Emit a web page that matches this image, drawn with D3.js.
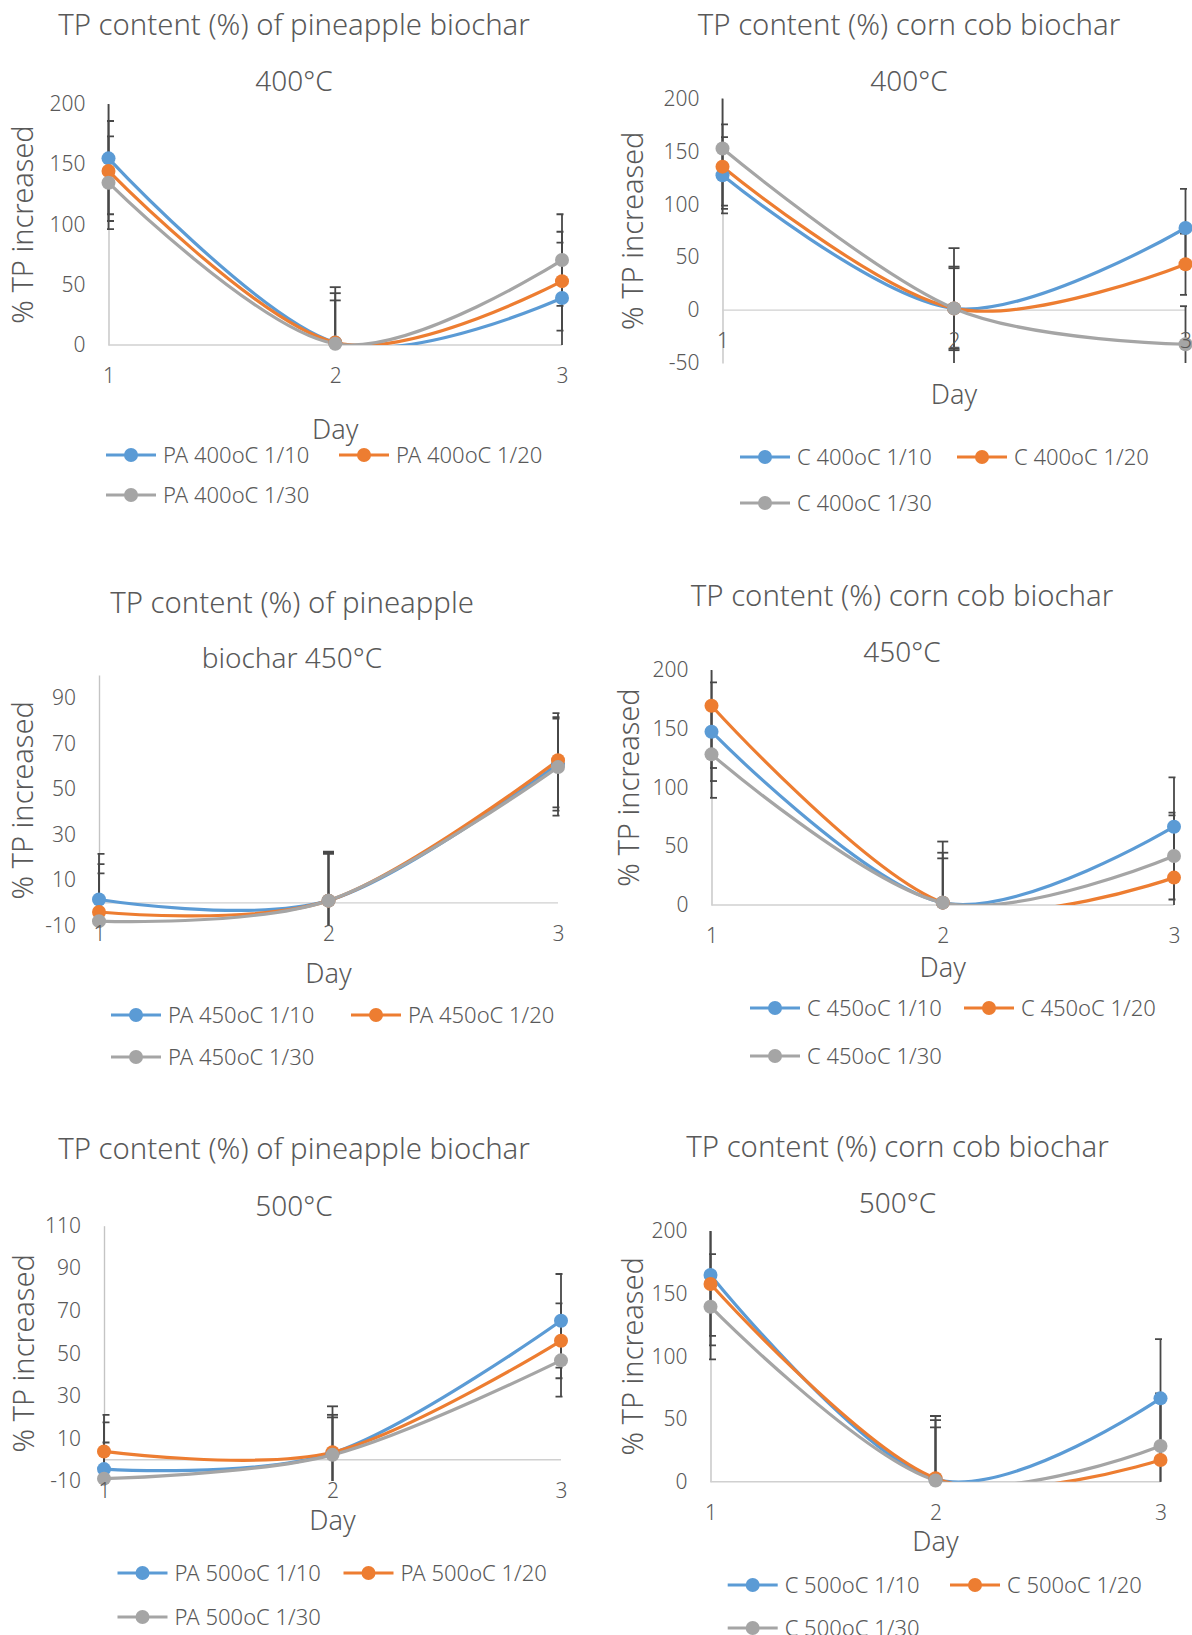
<!DOCTYPE html>
<html>
<head>
<meta charset="utf-8">
<script src="https://cdn.jsdelivr.net/npm/d3@7"></script>
<style>
  body { margin: 0; background: #fff; }
  text { font-family: "Noto Sans", "Open Sans", sans-serif; font-weight: 300; fill: #595959; }
</style>
</head>
<body>
<div id="chart"></div>
<script>
// Data: % TP increased per day, rows = ratio 1/10, 1/20, 1/30
const days = [1, 2, 3];
const ratios = ["1/10", "1/20", "1/30"];
const seriesColors = ["#5B9BD5", "#ED7D31", "#A5A5A5"];

const pa400 = [[154.9, 2, 39], [144.4, 2, 53], [134.7, 1, 70.5]];
const pa400Err = [[46.4, 46, 46], [41.5, 41, 41], [38.5, 36, 38]];

const c400 = [[127.4, 1.6, 77.6], [135.6, 1.6, 43.4], [152.7, 1.6, -32.3]];
const c400Err = [[36, 38, 37], [40, 39.5, 29], [54, 57, 36]];

const pa450 = [[1.5, 1, 61], [-4, 1, 62.6], [-8, 1, 59.6]];
const pa450Err = [[20, 21.5, 20.5], [21, 21, 20.7], [21, 20.5, 21.3]];

const c450 = [[147.5, 2, 66.6], [169.6, 2, 23.3], [128.2, 2, 41.7]];
const c450Err = [[42, 42.5, 42], [53, 52, 53], [37, 37.7, 37]];

const pa500 = [[-4.4, 3.1, 65.3], [3.9, 3.5, 55.9], [-8.9, 2.3, 46.7]];
const pa500Err = [[22, 22, 22], [17.2, 17.6, 17.6], [17, 17.6, 17]];

const c500 = [[164.9, 2, 66.5], [157.7, 2.7, 17.3], [139.6, 1, 28.5]];
const c500Err = [[48.5, 50.4, 47.3], [49, 46.5, 47], [42, 42.4, 42]];

const ticks200 = [0, 50, 100, 150, 200];
const ticks200neg = [-50, 0, 50, 100, 150, 200];
const ticks90 = [-10, 10, 30, 50, 70, 90];
const ticks110 = [-10, 10, 30, 50, 70, 90, 110];

const panels = [
  { id: 1, prefix: "PA", temp: "400", values: pa400, errors: pa400Err, domain: [0, 200], ticks: ticks200,
    title: ["TP content (%) of pineapple biochar", "400°C"], titleY: [35, 90.5], cx: 294,
    left: 108.5, right: 562, top: 104, bottom: 345, yLabelX: 33, dayY: 439,
    legendX: [106, 339], legendY: [455, 495] },
  { id: 2, prefix: "C", temp: "400", values: c400, errors: c400Err, domain: [-50, 200], ticks: ticks200neg,
    title: ["TP content (%) corn cob biochar", "400°C"], titleY: [35, 90.5], cx: 909,
    left: 722.5, right: 1185.5, top: 98.5, bottom: 363, yLabelX: 643, dayY: 404,
    legendX: [740, 957], legendY: [457, 503] },
  { id: 3, prefix: "PA", temp: "450", values: pa450, errors: pa450Err, domain: [-10, 100], ticks: ticks90,
    title: ["TP content (%) of pineapple", "biochar 450°C"], titleY: [612.7, 668.3], cx: 292,
    left: 99, right: 558, top: 675, bottom: 925.7, yLabelX: 33, dayY: 983,
    legendX: [111, 351], legendY: [1015, 1057] },
  { id: 4, prefix: "C", temp: "450", values: c450, errors: c450Err, domain: [0, 200], ticks: ticks200,
    title: ["TP content (%) corn cob biochar", "450°C"], titleY: [606, 661.7], cx: 902,
    left: 711.5, right: 1174, top: 670, bottom: 905, yLabelX: 639, dayY: 977,
    legendX: [750, 964], legendY: [1008, 1056] },
  { id: 5, prefix: "PA", temp: "500", values: pa500, errors: pa500Err, domain: [-10, 110], ticks: ticks110,
    title: ["TP content (%) of pineapple biochar", "500°C"], titleY: [1159.3, 1216], cx: 294,
    left: 104, right: 561, top: 1225.7, bottom: 1481, yLabelX: 34, dayY: 1530,
    legendX: [117.5, 343.5], legendY: [1573, 1617] },
  { id: 6, prefix: "C", temp: "500", values: c500, errors: c500Err, domain: [0, 200], ticks: ticks200,
    title: ["TP content (%) corn cob biochar", "500°C"], titleY: [1157.3, 1213.3], cx: 897.5,
    left: 710.5, right: 1160.5, top: 1231, bottom: 1481.7, yLabelX: 643, dayY: 1550.7,
    legendX: [727.7, 950], legendY: [1585, 1628] }
];

const svg = d3.select("#chart")
  .append("svg")
  .attr("width", 1192)
  .attr("height", 1635);

svg.append("rect")
  .attr("width", 1192)
  .attr("height", 1635)
  .attr("fill", "#fff");

const defs = svg.append("defs");

function drawPanel(p) {
  const x = d3.scaleLinear().domain([1, 3]).range([p.left, p.right]);
  const y = d3.scaleLinear().domain(p.domain).range([p.bottom, p.top]);
  const g = svg.append("g");

  const clipId = "clip" + p.id;
  defs.append("clipPath")
    .attr("id", clipId)
    .append("rect")
      .attr("x", p.left - 1.5)
      .attr("y", p.top)
      .attr("width", p.right - p.left + 3)
      .attr("height", p.bottom - p.top);

  // titles (first line a bit larger to match the original widths)
  p.title.forEach((t, i) => {
    g.append("text")
      .attr("x", p.cx)
      .attr("y", p.titleY[i])
      .attr("text-anchor", "middle")
      .style("font-size", i === 0 ? "29.3px" : "28px")
      .text(t);
  });

  // y axis
  const yAxis = g.append("g")
    .attr("transform", `translate(${p.left},0)`)
    .call(d3.axisLeft(y).tickValues(p.ticks).tickFormat(d => String(d)).tickSize(0).tickPadding(23));
  yAxis.select(".domain")
    .attr("stroke", "#C4C4C4")
    .attr("stroke-width", 1.4);
  yAxis.selectAll("text").style("font-size", "21px");

  // horizontal axis line at 0
  g.append("line")
    .attr("x1", p.left)
    .attr("x2", p.right)
    .attr("y1", y(0))
    .attr("y2", y(0))
    .attr("stroke", "#D0D0D0")
    .attr("stroke-width", 1.4);

  g.append("text")
    .attr("transform", "rotate(-90)")
    .attr("x", -(p.top + p.bottom) / 2)
    .attr("y", p.yLabelX)
    .attr("text-anchor", "middle")
    .style("font-size", "29px")
    .text("% TP increased");

  g.append("text")
    .attr("x", (p.left + p.right) / 2)
    .attr("y", p.dayY)
    .attr("text-anchor", "middle")
    .style("font-size", "27px")
    .text("Day");

  const plot = g.append("g").attr("clip-path", `url(#${clipId})`);

  // error bars
  p.values.forEach((vals, s) => {
    days.forEach((d, i) => {
      const v = vals[i], e = p.errors[s][i];
      plot.append("line")
        .attr("x1", x(d)).attr("x2", x(d))
        .attr("y1", y(v - e)).attr("y2", y(v + e))
        .attr("stroke", "#484848")
        .attr("stroke-width", 1.8);
      [v - e, v + e].forEach(c => {
        plot.append("line")
          .attr("x1", x(d) - 5.5).attr("x2", x(d) + 5.5)
          .attr("y1", y(c)).attr("y2", y(c))
          .attr("stroke", "#484848")
          .attr("stroke-width", 1.8);
      });
    });
  });

  // smoothed lines
  const line = d3.line()
    .x((v, i) => x(days[i]))
    .y(v => y(v))
    .curve(d3.curveCardinal.tension(0));

  p.values.forEach((vals, s) => {
    plot.append("path")
      .datum(vals)
      .attr("fill", "none")
      .attr("stroke", seriesColors[s])
      .attr("stroke-width", 3.2)
      .attr("d", line);
  });

  p.values.forEach((vals, s) => {
    g.selectAll(".dot" + s)
      .data(vals)
      .enter()
      .append("circle")
        .attr("cx", (v, i) => x(days[i]))
        .attr("cy", v => y(v))
        .attr("r", 7)
        .attr("fill", seriesColors[s]);
  });

  // x tick labels on top
  const xAxis = g.append("g")
    .attr("transform", `translate(0,${y(0)})`)
    .call(d3.axisBottom(x).tickValues(days).tickFormat(d3.format("d")).tickSize(0).tickPadding(23));
  xAxis.select(".domain").remove();
  xAxis.selectAll("text").style("font-size", "21px");

  // legend
  ratios.forEach((r, i) => {
    const lx = p.legendX[i === 2 ? 0 : i];
    const ly = p.legendY[i < 2 ? 0 : 1];
    const item = g.append("g");
    item.append("line")
      .attr("x1", lx).attr("x2", lx + 50)
      .attr("y1", ly).attr("y2", ly)
      .attr("stroke", seriesColors[i])
      .attr("stroke-width", 3.2);
    item.append("circle")
      .attr("cx", lx + 25)
      .attr("cy", ly)
      .attr("r", 7)
      .attr("fill", seriesColors[i]);
    item.append("text")
      .attr("x", lx + 57)
      .attr("y", ly + 7.5)
      .style("font-size", "22px")
      .text(`${p.prefix} ${p.temp}oC ${r}`);
  });
}

panels.forEach(drawPanel);
</script>
</body>
</html>
